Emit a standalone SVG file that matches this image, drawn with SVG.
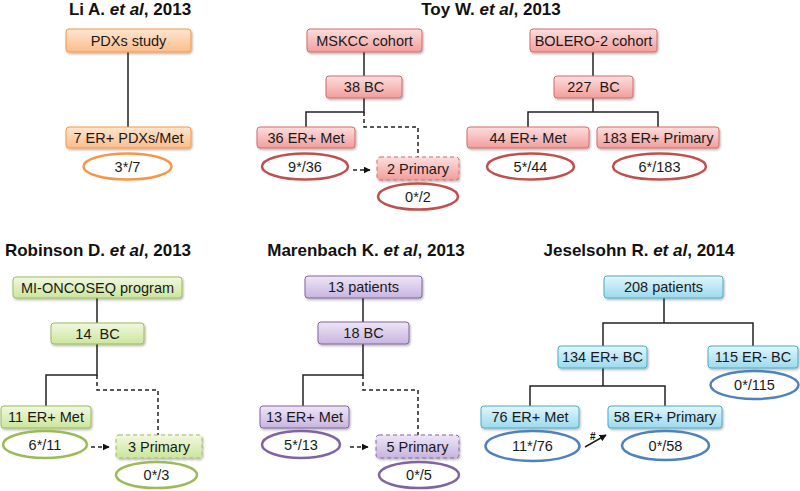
<svg xmlns="http://www.w3.org/2000/svg" width="800" height="491" viewBox="0 0 800 491">
<defs>
<linearGradient id="gO" x1="0" y1="0" x2="0" y2="1"><stop offset="0" stop-color="#fee6d2"/><stop offset="1" stop-color="#fbbd8a"/></linearGradient>
<linearGradient id="gR" x1="0" y1="0" x2="0" y2="1"><stop offset="0" stop-color="#fcdede"/><stop offset="1" stop-color="#f19e9c"/></linearGradient>
<linearGradient id="gG" x1="0" y1="0" x2="0" y2="1"><stop offset="0" stop-color="#f1f8e0"/><stop offset="1" stop-color="#cbe69c"/></linearGradient>
<linearGradient id="gP" x1="0" y1="0" x2="0" y2="1"><stop offset="0" stop-color="#eee6f6"/><stop offset="1" stop-color="#c8b4e0"/></linearGradient>
<linearGradient id="gB" x1="0" y1="0" x2="0" y2="1"><stop offset="0" stop-color="#e2f5fb"/><stop offset="1" stop-color="#9cdaee"/></linearGradient>
<filter id="sh" x="-10%" y="-20%" width="120%" height="160%"><feDropShadow dx="1" dy="1.5" stdDeviation="1" flood-color="#000" flood-opacity="0.3"/></filter>
<marker id="ah" viewBox="0 0 10 10" refX="9" refY="5" markerWidth="7" markerHeight="7" markerUnits="userSpaceOnUse" orient="auto"><path d="M0,0 L10,5 L0,10 z" fill="#111"/></marker>
<style>
.t{font-family:"Liberation Sans",Arial,sans-serif;font-size:14.5px;fill:#1a1a1a;text-anchor:middle;white-space:pre}
.h{font-family:"Liberation Sans",Arial,sans-serif;font-size:17px;font-weight:bold;fill:#111;text-anchor:middle}
.bo{fill:url(#gO);stroke:#f79646;stroke-width:1;filter:url(#sh)}
.br{fill:url(#gR);stroke:#d36d6a;stroke-width:1;filter:url(#sh)}
.bg{fill:url(#gG);stroke:#9bbb59;stroke-width:1;filter:url(#sh)}
.bp{fill:url(#gP);stroke:#8064a2;stroke-width:1;filter:url(#sh)}
.bb{fill:url(#gB);stroke:#4bacc6;stroke-width:1;filter:url(#sh)}
.dash{stroke-dasharray:4 3}
.eo{fill:#fff;stroke:#f79646;stroke-width:2.5}
.er{fill:#fff;stroke:#c0504d;stroke-width:2.5}
.eg{fill:#fff;stroke:#9bbb59;stroke-width:2.5}
.ep{fill:#fff;stroke:#8064a2;stroke-width:2.5}
.eb{fill:#fff;stroke:#4f81bd;stroke-width:2.5}
.c{fill:none;stroke:#222;stroke-width:1.5}
.cd{fill:none;stroke:#222;stroke-width:1.5;stroke-dasharray:4 3}
</style>
</defs>
<rect width="800" height="491" fill="#fff"/>

<g id="titles">
<text class="h" x="130" y="15">Li A. <tspan font-style="italic">et al</tspan>, 2013</text>
<text class="h" x="491" y="15">Toy W. <tspan font-style="italic">et al</tspan>, 2013</text>
<text class="h" x="98" y="256">Robinson D. <tspan font-style="italic">et al</tspan>, 2013</text>
<text class="h" x="366" y="256">Marenbach K. <tspan font-style="italic">et al</tspan>, 2013</text>
<text class="h" x="639" y="256">Jeselsohn R. <tspan font-style="italic">et al</tspan>, 2014</text>
</g>

<g id="connectors">
<path class="c" d="M128,52 V127"/>
<path class="c" d="M364,52 V76"/>
<path class="c" d="M364,98 V112 H306 V127"/>
<path class="cd" d="M364,112 V127 H418 V157"/>
<path class="cd" d="M353,170 H370" marker-end="url(#ah)"/>
<path class="c" d="M593,52 V76"/>
<path class="c" d="M593,98 V112 M528,127 V112 H658 V127"/>
<path class="c" d="M97,298 V323"/>
<path class="c" d="M97,344 V375 H46 V406"/>
<path class="cd" d="M97,375 V390 H158 V435"/>
<path class="cd" d="M91,447 H109" marker-end="url(#ah)"/>
<path class="c" d="M363,298 V322"/>
<path class="c" d="M363,344 V375 H303 V406"/>
<path class="cd" d="M363,375 V390 H418 V435"/>
<path class="cd" d="M350,447 H368" marker-end="url(#ah)"/>
<path class="c" d="M664,298 V323 M603,346 V323 H753 V346"/>
<path class="c" d="M603,368 V386 M530,406 V386 H665 V406"/>
<path class="c" d="M585,447 L606,435" marker-end="url(#ah)"/>
<text x="590" y="440" font-family="Liberation Sans,Arial,sans-serif" font-size="10" font-weight="bold" fill="#111">#</text>
</g>

<g id="li-pdx"><rect class="bo" x="66" y="29" width="125" height="23" rx="3"/><text class="t" x="128.5" y="45.5">PDXs study</text></g>
<g id="li-7er"><rect class="bo" x="66" y="127" width="125" height="21" rx="3"/><text class="t" x="128.5" y="142.5">7 ER+ PDXs/Met</text></g>
<g id="li-e1"><ellipse class="eo" cx="127.5" cy="166.5" rx="44" ry="13"/><text class="t" x="127.5" y="171.5">3*/7</text></g>

<g id="toy-mskcc"><rect class="br" x="307" y="29" width="115" height="23" rx="3"/><text class="t" x="364.5" y="45.5">MSKCC cohort</text></g>
<g id="toy-38bc"><rect class="br" x="326" y="76" width="76" height="22" rx="3"/><text class="t" x="364" y="92">38 BC</text></g>
<g id="toy-36met"><rect class="br" x="257" y="127" width="98" height="21" rx="3"/><text class="t" x="306" y="142.5">36 ER+ Met</text></g>
<g id="toy-e1"><ellipse class="er" cx="305" cy="166.5" rx="43" ry="13"/><text class="t" x="305" y="171.5">9*/36</text></g>
<g id="toy-2prim"><rect class="br dash" x="377" y="157" width="82" height="23" rx="3"/><text class="t" x="418" y="173.5">2 Primary</text></g>
<g id="toy-e2"><ellipse class="er" cx="418" cy="196.5" rx="40" ry="13"/><text class="t" x="418" y="201.5">0*/2</text></g>

<g id="toy-bolero"><rect class="br" x="530" y="29" width="127" height="23" rx="3"/><text class="t" x="593.5" y="45.5">BOLERO-2 cohort</text></g>
<g id="toy-227bc"><rect class="br" x="554" y="76" width="79" height="22" rx="3"/><text class="t" x="593.5" y="92" xml:space="preserve">227  BC</text></g>
<g id="toy-44met"><rect class="br" x="467" y="127" width="122" height="21" rx="3"/><text class="t" x="528" y="142.5">44 ER+ Met</text></g>
<g id="toy-183prim"><rect class="br" x="597" y="127" width="122" height="21" rx="3"/><text class="t" x="658" y="142.5">183 ER+ Primary</text></g>
<g id="toy-e3"><ellipse class="er" cx="530.5" cy="166.5" rx="43.5" ry="13"/><text class="t" x="530.5" y="171.5">5*/44</text></g>
<g id="toy-e4"><ellipse class="er" cx="659.5" cy="166.5" rx="46.5" ry="13"/><text class="t" x="659.5" y="171.5">6*/183</text></g>

<g id="rob-mi"><rect class="bg" x="13" y="277" width="169" height="21" rx="3"/><text class="t" x="97.5" y="292.5">MI-ONCOSEQ program</text></g>
<g id="rob-14bc"><rect class="bg" x="51" y="323" width="93" height="21" rx="3"/><text class="t" x="97.5" y="338.5" xml:space="preserve">14  BC</text></g>
<g id="rob-11met"><rect class="bg" x="1" y="406" width="90" height="22" rx="3"/><text class="t" x="46" y="422">11 ER+ Met</text></g>
<g id="rob-e1"><ellipse class="eg" cx="45" cy="444.5" rx="42" ry="13.5"/><text class="t" x="45" y="449.5">6*/11</text></g>
<g id="rob-3prim"><rect class="bg dash" x="116" y="435" width="86" height="23" rx="3"/><text class="t" x="159" y="451.5">3 Primary</text></g>
<g id="rob-e2"><ellipse class="eg" cx="156.5" cy="475" rx="40.5" ry="13"/><text class="t" x="156.5" y="480">0*/3</text></g>

<g id="mar-13pat"><rect class="bp" x="305" y="276" width="117" height="22" rx="3"/><text class="t" x="363.5" y="292">13 patients</text></g>
<g id="mar-18bc"><rect class="bp" x="318" y="322" width="91" height="22" rx="3"/><text class="t" x="363.5" y="338">18 BC</text></g>
<g id="mar-13met"><rect class="bp" x="260" y="406" width="89" height="22" rx="3"/><text class="t" x="304.5" y="422">13 ER+ Met</text></g>
<g id="mar-e1"><ellipse class="ep" cx="301" cy="444.5" rx="39" ry="13.5"/><text class="t" x="301" y="449.5">5*/13</text></g>
<g id="mar-5prim"><rect class="bp dash" x="376" y="435" width="83" height="23" rx="3"/><text class="t" x="417.5" y="451.5">5 Primary</text></g>
<g id="mar-e2"><ellipse class="ep" cx="419" cy="475" rx="40" ry="13"/><text class="t" x="419" y="480">0*/5</text></g>

<g id="jes-208"><rect class="bb" x="604" y="276" width="119" height="22" rx="3"/><text class="t" x="663.5" y="292">208 patients</text></g>
<g id="jes-134"><rect class="bb" x="558" y="346" width="89" height="22" rx="3"/><text class="t" x="602.5" y="362">134 ER+ BC</text></g>
<g id="jes-115"><rect class="bb" x="708" y="346" width="90" height="22" rx="3"/><text class="t" x="753" y="362">115 ER- BC</text></g>
<g id="jes-e0"><ellipse class="eb" cx="754.5" cy="385" rx="44" ry="14"/><text class="t" x="754.5" y="390">0*/115</text></g>
<g id="jes-76met"><rect class="bb" x="481" y="406" width="98" height="22" rx="3"/><text class="t" x="530" y="422">76 ER+ Met</text></g>
<g id="jes-e1"><ellipse class="eb" cx="532.5" cy="446" rx="47" ry="15"/><text class="t" x="532.5" y="451">11*/76</text></g>
<g id="jes-58prim"><rect class="bb" x="608" y="406" width="114" height="22" rx="3"/><text class="t" x="665" y="422">58 ER+ Primary</text></g>
<g id="jes-e2"><ellipse class="eb" cx="665.5" cy="445.5" rx="43.5" ry="14.5"/><text class="t" x="665.5" y="450.5">0*/58</text></g>
</svg>
